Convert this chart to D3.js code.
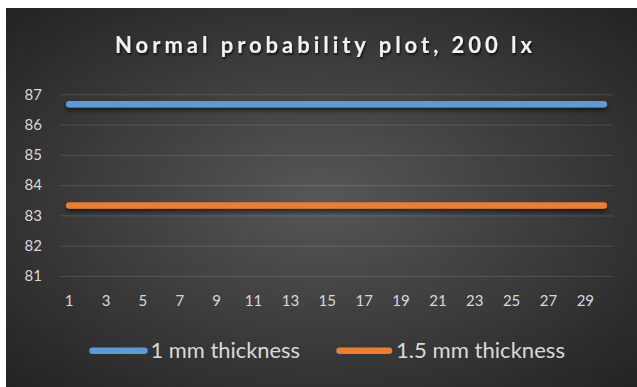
<!DOCTYPE html>
<html>
<head>
<meta charset="utf-8">
<script src="https://cdn.jsdelivr.net/npm/d3@7"></script>
<style>
  html, body { margin: 0; padding: 0; background: #ffffff; }
  svg { display: block; font-family: Lato, "Open Sans", sans-serif; }
</style>
</head>
<body>
<svg id="chart" width="637" height="387"></svg>
<script>
// Sample index along the horizontal axis
const categories = [1, 2, 3, 4, 5, 6, 7, 8, 9, 10, 11, 12, 13, 14, 15,
                    16, 17, 18, 19, 20, 21, 22, 23, 24, 25, 26, 27, 28, 29, 30];
// Measured values per sample
const thickness1mm = [86.67, 86.67, 86.67, 86.67, 86.67, 86.67, 86.67, 86.67, 86.67, 86.67,
                      86.67, 86.67, 86.67, 86.67, 86.67, 86.67, 86.67, 86.67, 86.67, 86.67,
                      86.67, 86.67, 86.67, 86.67, 86.67, 86.67, 86.67, 86.67, 86.67, 86.67];
const thickness15mm = [83.33, 83.33, 83.33, 83.33, 83.33, 83.33, 83.33, 83.33, 83.33, 83.33,
                       83.33, 83.33, 83.33, 83.33, 83.33, 83.33, 83.33, 83.33, 83.33, 83.33,
                       83.33, 83.33, 83.33, 83.33, 83.33, 83.33, 83.33, 83.33, 83.33, 83.33];
const seriesNames = ["1 mm thickness", "1.5 mm thickness"];
const seriesColors = ["#5B9BD5", "#ED7D31"];
const yTicks = [81, 82, 83, 84, 85, 86, 87];
const xTickLabels = [1, 3, 5, 7, 9, 11, 13, 15, 17, 19, 21, 23, 25, 27, 29];
const title = "Normal probability plot, 200 lx";

const series = [
  { name: seriesNames[0], color: seriesColors[0], values: thickness1mm },
  { name: seriesNames[1], color: seriesColors[1], values: thickness15mm }
];

const svg = d3.select("#chart");
const defs = svg.append("defs");

// Dark radial background
const grad = defs.append("radialGradient")
  .attr("id", "bg").attr("cx", "50%").attr("cy", "50%").attr("r", "70%");
grad.append("stop").attr("offset", "0%").attr("stop-color", "#575757");
grad.append("stop").attr("offset", "100%").attr("stop-color", "#232323");

// Soft drop shadow for the series lines (user-space region: the lines are flat)
const shadow = defs.append("filter").attr("id", "shadow")
  .attr("filterUnits", "userSpaceOnUse")
  .attr("x", 0).attr("y", 0).attr("width", 637).attr("height", 387);
shadow.append("feDropShadow").attr("dx", 0).attr("dy", 3).attr("stdDeviation", 2)
  .attr("flood-color", "#000").attr("flood-opacity", 0.55);

const textShadow = defs.append("filter").attr("id", "textShadow")
  .attr("x", "-10%").attr("y", "-50%").attr("width", "120%").attr("height", "200%");
textShadow.append("feDropShadow").attr("dx", 1).attr("dy", 2).attr("stdDeviation", 1.2)
  .attr("flood-color", "#000").attr("flood-opacity", 0.7);

svg.append("rect")
  .attr("x", 6).attr("y", 8).attr("width", 631).attr("height", 379)
  .attr("fill", "url(#bg)");

const plot = { left: 60, right: 613, top: 94.3, bottom: 276 };

const x = d3.scaleBand().domain(categories).range([plot.left, plot.right]);
const xc = d => x(d) + x.bandwidth() / 2;
const y = d3.scaleLinear().domain([81, 87]).range([plot.bottom, plot.top]);

// Horizontal gridlines
svg.append("g")
  .attr("transform", `translate(${plot.left},0)`)
  .call(d3.axisLeft(y).tickValues(yTicks).tickSize(-(plot.right - plot.left)).tickFormat(""))
  .call(g => g.select(".domain").remove())
  .call(g => g.selectAll("line").attr("stroke", "rgba(255,255,255,0.13)").attr("stroke-width", 1));

// Y axis labels
svg.append("g")
  .attr("transform", `translate(${plot.left},0)`)
  .call(d3.axisLeft(y).tickValues(yTicks).tickFormat(d3.format("d")).tickSize(0).tickPadding(18))
  .call(g => g.select(".domain").remove())
  .call(g => g.selectAll("text")
    .attr("fill", "#d9d9d9").style("font-size", "15px").style("font-family", "Lato, sans-serif"));

// X axis labels
svg.append("g")
  .attr("transform", `translate(0,${plot.bottom})`)
  .call(d3.axisBottom(x).tickValues(xTickLabels).tickSize(0).tickPadding(19))
  .call(g => g.select(".domain").remove())
  .call(g => g.selectAll("text")
    .attr("fill", "#d9d9d9").style("font-size", "15px").style("font-family", "Lato, sans-serif"));

// Series lines
const line = d3.line()
  .x((v, i) => xc(categories[i]))
  .y(v => y(v));

svg.append("g").selectAll("path")
  .data(series)
  .join("path")
  .attr("d", s => line(s.values))
  .attr("fill", "none")
  .attr("stroke", s => s.color)
  .attr("stroke-width", 6.5)
  .attr("stroke-linecap", "round")
  .attr("stroke-linejoin", "round")
  .attr("filter", "url(#shadow)");

// Title
svg.append("text")
  .attr("x", 115).attr("y", 53)
  .attr("textLength", 417)
  .attr("lengthAdjust", "spacing")
  .attr("fill", "#f2f2f2")
  .attr("filter", "url(#textShadow)")
  .style("font-size", "22px")
  .style("font-weight", "bold")
  .text(title);

// Legend
const legendItems = [
  { x0: 89.5, x1: 147.5, tx: 150.5, tw: 149.5 },
  { x0: 336.5, x1: 392, tx: 396, tw: 169 }
];
const legendY = 350.7;
const legend = svg.append("g");
series.forEach((s, i) => {
  const li = legendItems[i];
  legend.append("line")
    .attr("x1", li.x0 + 3).attr("x2", li.x1 - 3)
    .attr("y1", legendY).attr("y2", legendY)
    .attr("stroke", s.color).attr("stroke-width", 6.5)
    .attr("stroke-linecap", "round");
  legend.append("text")
    .attr("x", li.tx).attr("y", legendY + 7.5)
    .attr("textLength", li.tw)
    .attr("lengthAdjust", "spacingAndGlyphs")
    .attr("fill", "#d9d9d9")
    .style("font-size", "20.5px")
    .text(s.name);
});
</script>
</body>
</html>
